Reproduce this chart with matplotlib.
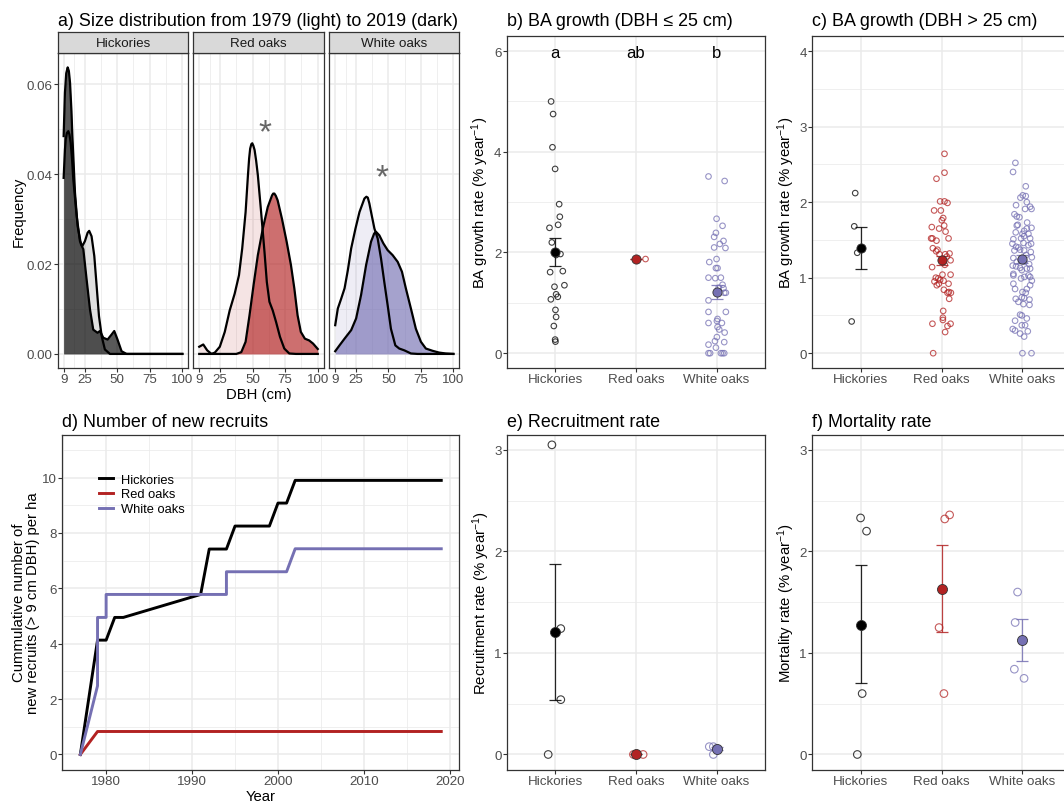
import matplotlib
matplotlib.use('agg')
import matplotlib.pyplot as plt
from matplotlib.ticker import MultipleLocator, FixedLocator

plt.rcParams['font.family'] = ['Liberation Sans', 'DejaVu Sans']
plt.rcParams['mathtext.fontset'] = 'custom'
plt.rcParams['mathtext.rm'] = 'Liberation Sans'
plt.rcParams['mathtext.it'] = 'Liberation Sans:italic'
plt.rcParams['mathtext.bf'] = 'Liberation Sans:bold'
plt.rcParams['mathtext.default'] = 'regular'

# ---------------- data ----------------
species = ["Hickories", "Red oaks", "White oaks"]
sp_colors = ["#000000", "#B22222", "#7570B3"]

# a) density of DBH, 1979 (light) and 2019 (dark)
hick79_x = [9, 10, 10.6, 11.5, 12.6, 13.5, 14.4, 15.4, 16.4, 19.0, 21.5, 23.3, 25.3, 27.4,
            28.6, 30.4, 32.5, 34.3, 36.1, 38.2, 40.6, 44.5, 100]
hick79_y = [0.0392, 0.0455, 0.0478, 0.0492, 0.0496, 0.0488, 0.047, 0.0435, 0.0389, 0.0307,
            0.0251, 0.024, 0.0251, 0.027, 0.0274, 0.0262, 0.0218, 0.0151, 0.0084, 0.0039,
            0.001, 0, 0]
hick19_x = [9, 10, 11, 12.1, 13, 13.9, 15, 15.7, 17.7, 19.7, 22.3, 24.1, 26.6, 29.2, 31.7,
            35.0, 36.8, 39.4, 42.7, 45.7, 47.8, 50.3, 53.4, 57.2, 100]
hick19_y = [0.0485, 0.0582, 0.0625, 0.0638, 0.063, 0.0604, 0.054, 0.0485, 0.0359, 0.0285,
            0.0244, 0.0233, 0.0166, 0.0099, 0.0054, 0.0047, 0.0051, 0.0036, 0.0032, 0.0043,
            0.0051, 0.0032, 0.0006, 0, 0]
red79_x = [9, 12.1, 15.1, 18.4, 21, 24.8, 28.6, 32.4, 36.2, 39.5, 42.0, 44.6, 46.4, 47.3,
           48.1, 49.0, 49.7, 50.5, 51.5, 52.7, 54.0, 56.5, 59.1, 60.9, 62.9, 65.4, 68.0,
           71.0, 74.3, 78.1, 83.2, 100]
red79_y = [0.0016, 0.0021, 0.0008, 0, 0.0003, 0.0016, 0.0049, 0.0097, 0.0134, 0.0175,
           0.0235, 0.0316, 0.0398, 0.0435, 0.0457, 0.0467, 0.0469, 0.0464, 0.0454, 0.043,
           0.0398, 0.0316, 0.0227, 0.016, 0.0116, 0.0097, 0.0071, 0.0038, 0.0012, 0.0001,
           0, 0]
red19_x = [9, 37.5, 41.3, 44.6, 47.6, 50.7, 54.0, 57.8, 61.6, 64.9, 65.8, 66.7, 67.8, 69.2,
           72.5, 76.1, 79.4, 82.0, 84.5, 87.0, 90.1, 93.4, 96.4, 100]
red19_y = [0, 0, 0.0004, 0.0027, 0.0086, 0.0153, 0.022, 0.0279, 0.0327, 0.0353, 0.0357,
           0.0357, 0.0352, 0.0342, 0.0301, 0.025, 0.0198, 0.0146, 0.0086, 0.0049, 0.0034,
           0.003, 0.0023, 0.0011]
white79_x = [9, 11.0, 13.6, 16.2, 18.7, 21.3, 24.6, 27.7, 31.5, 33.0, 34.1, 35.3, 36.6, 39.2,
             41.7, 44.3, 46.8, 49.4, 51.9, 55.3, 58.3, 62.2, 67.3, 72.4, 100]
white79_y = [0.0064, 0.0101, 0.0123, 0.0146, 0.0186, 0.0235, 0.0279, 0.0316, 0.0346, 0.035,
             0.0348, 0.0335, 0.0316, 0.0279, 0.0257, 0.0212, 0.016, 0.0108, 0.0056, 0.0019,
             0.0012, 0.0008, 0.0001, 0, 0]
white19_x = [9, 12.3, 16.2, 21.3, 25.1, 28.9, 32.8, 36.6, 39.0, 40.4, 43.0, 46.1, 49.4, 53.2,
             57.1, 60.4, 63.4, 67.3, 71.1, 75.0, 78.8, 83.9, 89.0, 94.1, 100]
white19_y = [0.0006, 0.0019, 0.0034, 0.0053, 0.0079, 0.0131, 0.0198, 0.025, 0.0268, 0.0272,
             0.0264, 0.0246, 0.0231, 0.022, 0.0205, 0.0183, 0.0146, 0.0101, 0.0056, 0.0027,
             0.0012, 0.0007, 0.0003, 0.0001, 0]
star_x = [None, 59.3, 45.0]
star_y = [None, 0.0515, 0.0414]

# b) BA growth, DBH <= 25 cm
b_hick = [5.0, 4.75, 4.09, 3.66, 2.96, 2.71, 2.55, 2.49, 2.20, 1.97, 1.95, 1.61, 1.63, 1.32,
          1.35, 1.17, 1.12, 1.07, 0.86, 0.72, 0.54, 0.27, 0.23]
b_hick_jit = [-0.05, -0.025, -0.033, 0, 0.05, 0.058, 0.037, -0.07, -0.041, 0.066, 0.012,
              -0.062, 0.095, -0.008, 0.115, 0.012, 0.033, -0.053, 0.004, 0.012, -0.016, 0,
              0.004]
b_red = [1.87]
b_red_jit = [0.12]
b_white = [3.51, 3.42, 2.67, 2.53, 2.39, 2.31, 2.23, 2.17, 2.09, 2.10, 1.81, 1.87, 1.69,
           1.69, 1.50, 1.49, 1.50, 1.36, 1.29, 1.30, 1.20, 1.20, 1.05, 0.82, 0.82, 0.68,
           0.64, 0.60, 0.60, 0.52, 0.47, 0.41, 0.32, 0.24, 0.22, 0.17, 0.11, 0, 0, 0, 0, 0]
b_white_jit = [-0.10, 0.10, 0.0, 0.074, -0.008, -0.03, 0.086, 0.04, 0.11, -0.03, -0.09, 0.0,
               -0.008, 0.012, -0.1, -0.016, 0.053, 0.074, 0.086, 0.025, 0.095, 0.115, -0.10,
               -0.10, 0.115, 0.012, 0.004, -0.10, 0.066, 0.012, 0.033, 0.10, 0.004, -0.02,
               0.095, -0.10, -0.008, -0.10, -0.08, 0.053, 0.074, 0.095]
b_mean = [2.01, 1.87, 1.21]
b_lo = [1.73, 1.87, 1.07]
b_hi = [2.29, 1.87, 1.35]
b_letters = ["a", "ab", "b"]

# c) BA growth, DBH > 25 cm
c_hick = [2.12, 1.68, 1.33, 0.42]
c_hick_jit = [-0.066, -0.078, -0.041, -0.11]
c_red = [2.64, 2.39, 2.31, 2.01, 2.01, 1.99, 1.89, 1.89, 1.79, 1.76,
         1.69, 1.67, 1.65, 1.61, 1.52, 1.52, 1.52, 1.49, 1.39, 1.37,
         1.35, 1.31, 1.31, 1.32, 1.28, 1.23, 1.21, 1.17, 1.14, 1.04,
         1.04, 1.00, 0.99, 0.97, 0.96, 0.95, 0.92, 0.92, 0.90, 0.84,
         0.81, 0.80, 0.80, 0.72, 0.56, 0.47, 0.44, 0.39, 0.39, 0.36,
         0.28, 0.0]
c_red_jit = [0.037, 0.037, -0.062, -0.017, 0.037, 0.074, -0.091, -0.008, 0.021, 0.004,
             0.033, -0.12, -0.029, 0.05, -0.112, -0.128, 0.087, -0.062, -0.107, -0.05,
             -0.066, -0.025, 0.045, 0.099, 0.066, 0.112, 0.025, 0.041, -0.116, 0.012,
             0.112, -0.07, -0.041, -0.017, 0.025, -0.087, -0.033, 0.087, -0.058, 0.029,
             0.091, 0.116, 0.074, 0.095, 0.021, 0.017, 0.017, 0.112, -0.112, 0.074,
             0.045, -0.103]
c_white = [2.52, 2.40, 2.21, 2.09, 2.06, 2.08, 2.00, 1.96, 1.91, 1.94,
           1.91, 1.84, 1.81, 1.80, 1.70, 1.69, 1.73, 1.66, 1.65, 1.62,
           1.58, 1.58, 1.60, 1.51, 1.55, 1.52, 1.52, 1.45, 1.46, 1.41,
           1.40, 1.43, 1.45, 1.37, 1.36, 1.34, 1.36, 1.30, 1.26, 1.27,
           1.23, 1.21, 1.18, 1.21, 1.16, 1.15, 1.13, 1.12, 1.12, 1.10,
           1.05, 1.03, 1.03, 1.01, 1.01, 0.99, 0.96, 0.90, 0.92, 0.85,
           0.85, 0.81, 0.80, 0.74, 0.73, 0.72, 0.68, 0.71, 0.65, 0.64,
           0.51, 0.50, 0.46, 0.43, 0.37, 0.37, 0.32, 0.30, 0.29, 0.26,
           0.22, 0.0, 0.0]
c_white_jit = [-0.087, -0.116, 0.041, 0.004, -0.025, 0.041, 0.054, -0.079, 0.033, 0.095,
               0.112, -0.099, -0.07, -0.037, -0.058, -0.07, 0.058, 0.112, 0.054, 0.021,
               0, 0.074, -0.083, -0.112, 0.021, -0.017, 0.095, -0.124, 0.012, -0.079,
               -0.05, 0.074, 0.107, -0.029, 0.021, 0.103, -0.099, 0.045, -0.112, 0.116,
               -0.021, -0.07, 0.083, 0.025, -0.12, -0.079, -0.029, 0.054, 0.095, -0.008,
               -0.112, -0.112, 0.074, 0.025, 0.095, -0.017, 0.116, 0.095, -0.112, -0.091,
               0.054, 0, 0.041, -0.008, 0.021, -0.083, -0.05, 0.087, 0.012, 0.087,
               -0.029, -0.008, 0.054, -0.091, 0.033, -0.008, -0.12, -0.091, 0.066, -0.029,
               0.021, 0, 0.112]
c_mean = [1.39, 1.23, 1.25]
c_lo = [1.11, 1.17, 1.20]
c_hi = [1.67, 1.29, 1.30]

# d) cumulative number of new recruits per ha
d_hick_year = [1977, 1979, 1980, 1981, 1982, 1991, 1992, 1994, 1995, 1999, 2000, 2001, 2002, 2019]
d_hick = [0, 4.13, 4.13, 4.95, 4.95, 5.78, 7.42, 7.42, 8.25, 8.25, 9.08, 9.08, 9.90, 9.90]
d_red_year = [1977, 1979, 2019]
d_red = [0, 0.83, 0.83]
d_white_year = [1977, 1979, 1979, 1980, 1980, 1994, 1994, 2001, 2002, 2019]
d_white = [0, 2.48, 4.95, 4.95, 5.78, 5.78, 6.60, 6.60, 7.43, 7.43]

# e) recruitment rate
e_hick = [3.05, 1.24, 0.54, 0.0]
e_hick_jit = [-0.04, 0.07, 0.07, -0.086]
e_red = [0.0, 0.0]
e_red_jit = [0.09, -0.03]
e_white = [0.077, 0.077, 0.0, 0.06]
e_white_jit = [-0.09, -0.04, -0.04, 0.0]
e_mean = [1.21, 0.0, 0.055]
e_lo = [0.54, 0.0, 0.04]
e_hi = [1.88, 0.0, 0.07]

# f) mortality rate
f_hick = [2.33, 2.20, 0.60, 0.0]
f_hick_jit = [0.0, 0.074, 0.02, -0.04]
f_red = [2.32, 2.36, 1.25, 0.60]
f_red_jit = [0.04, 0.10, -0.03, 0.03]
f_white = [1.60, 1.30, 0.84, 0.75]
f_white_jit = [-0.06, -0.09, -0.10, 0.02]
f_mean = [1.28, 1.63, 1.13]
f_lo = [0.70, 1.21, 0.92]
f_hi = [1.87, 2.06, 1.33]

# ---------------- layout helpers ----------------
W, H = 1064, 803
fig = plt.figure(figsize=(W / 100, H / 100), dpi=100)

TICK = 9.6
LEG = 9.3
LAB = 10.7
TITLE = 12.9


def px_axes(x0, y0, x1, y1):
    return fig.add_axes([x0 / W, 1 - y1 / H, (x1 - x0) / W, (y1 - y0) / H])


def ftext(x, y, s, **kw):
    fig.text(x / W, 1 - y / H, s, **kw)


def theme_bw(ax):
    ax.set_facecolor('white')
    for sp in ax.spines.values():
        sp.set_color('#333333')
        sp.set_linewidth(0.9)
    ax.grid(which='major', color='#EBEBEB', lw=1.1)
    ax.grid(which='minor', color='#EBEBEB', lw=0.55)
    ax.set_axisbelow(True)
    ax.tick_params(which='major', length=2.7, width=0.8, color='#333333',
                   labelsize=TICK, labelcolor='#4D4D4D', pad=1)
    ax.tick_params(which='minor', length=0)


# ---------------- a) densities ----------------
facet_px = [(57.7, 188.3), (193.3, 323.7), (329.3, 459.3)]
curves79 = [(hick79_x, hick79_y), (red79_x, red79_y), (white79_x, white79_y)]
curves19 = [(hick19_x, hick19_y), (red19_x, red19_y), (white19_x, white19_y)]

for i, (x0, x1) in enumerate(facet_px):
    ax = px_axes(x0, 54, x1, 369.3)
    theme_bw(ax)
    col = sp_colors[i]
    lx, ly = curves79[i]
    dx, dy = curves19[i]
    ax.fill_between(lx, 0, ly, color=col, alpha=0.12, lw=0)
    ax.plot(lx, ly, color='black', lw=1.6)
    ax.fill_between(dx, 0, dy, color=col, alpha=0.65, lw=0)
    ax.plot(dx, dy, color='black', lw=1.6)
    ax.set_xlim(4.45, 104.55)
    ax.set_ylim(-0.0032, 0.067)
    ax.set_xticks([9, 25, 50, 75, 100])
    ax.xaxis.set_minor_locator(FixedLocator([17, 37.5, 62.5, 87.5]))
    ax.set_yticks([0, 0.02, 0.04, 0.06])
    ax.yaxis.set_minor_locator(FixedLocator([0.01, 0.03, 0.05]))
    if i == 0:
        ax.set_yticklabels(["0.00", "0.02", "0.04", "0.06"])
    else:
        ax.tick_params(axis='y', left=False, labelleft=False)
        ax.annotate("*", (star_x[i], star_y[i]), xytext=(0, -13.5),
                    textcoords='offset points', ha='center', va='baseline',
                    fontsize=24, color='#666666')
    # facet strip
    st = px_axes(x0, 33.3, x1, 54)
    st.set_facecolor('#D9D9D9')
    for sp in st.spines.values():
        sp.set_color('#333333')
        sp.set_linewidth(0.9)
    st.set_xticks([])
    st.set_yticks([])
    st.text(0.5, 0.47, species[i], ha='center', va='center', fontsize=TICK,
            color='#1A1A1A', transform=st.transAxes)

ftext(57.7, 26, "a) Size distribution from 1979 (light) to 2019 (dark)",
      fontsize=TITLE, ha='left', va='baseline')
ftext(18.3, 211.7, "Frequency", rotation=90, ha='center', va='center', fontsize=LAB)
ftext(258.5, 399.5, "DBH (cm)", ha='center', va='baseline', fontsize=LAB)


# ---------------- dot panels ----------------
def dot_panel(ax, groups, jits, means, los, his, s_open, s_mean, ylim, ymax_tick):
    for i in range(3):
        col = sp_colors[i]
        xs = [i + 1 + j for j in jits[i]]
        ax.scatter(xs, groups[i], s=s_open, facecolors='none', edgecolors=col,
                   linewidths=0.8, alpha=0.75, zorder=3)
        ax.errorbar([i + 1], [means[i]],
                    yerr=[[means[i] - los[i]], [his[i] - means[i]]],
                    fmt='none', ecolor=col, elinewidth=0.9, capsize=4.5,
                    capthick=0.9, alpha=0.85, zorder=4)
        ax.scatter([i + 1], [means[i]], s=s_mean, color=col, edgecolors='#333333',
                   linewidths=0.6, zorder=5)
    ax.set_xlim(0.4, 3.6)
    ax.set_ylim(*ylim)
    ax.set_xticks([1, 2, 3])
    ax.set_xticklabels(species)
    ax.yaxis.set_major_locator(MultipleLocator(ymax_tick))
    ax.yaxis.set_minor_locator(MultipleLocator(ymax_tick / 2))


ylab_growth = "BA growth rate (% year$^{-1}$)"

# b
axb = px_axes(506.7, 37, 765, 369.3)
theme_bw(axb)
dot_panel(axb, [b_hick, b_red, b_white], [b_hick_jit, b_red_jit, b_white_jit],
          b_mean, b_lo, b_hi, 16, 44, (-0.3, 6.3), 2)
for i, t in enumerate(b_letters):
    axb.annotate(t, (i + 1, 6), xytext=(0, -4.3), textcoords='offset points',
                 ha='center', va='baseline', fontsize=12, color='black')
ftext(506.7, 26, "b) BA growth (DBH \u2264 25 cm)", fontsize=TITLE, ha='left', va='baseline')
ftext(480.5, 203, ylab_growth, rotation=90, ha='center', va='center', fontsize=LAB)

# c
axc = px_axes(812, 37, 1071, 369.3)
theme_bw(axc)
dot_panel(axc, [c_hick, c_red, c_white], [c_hick_jit, c_red_jit, c_white_jit],
          c_mean, c_lo, c_hi, 16, 44, (-0.2, 4.2), 1)
ftext(812, 26, "c) BA growth (DBH > 25 cm)", fontsize=TITLE, ha='left', va='baseline')
ftext(786.5, 203, ylab_growth, rotation=90, ha='center', va='center', fontsize=LAB)

# ---------------- d) recruits ----------------
axd = px_axes(62.3, 435.7, 459.3, 770.7)
theme_bw(axd)
axd.plot(d_hick_year, d_hick, color=sp_colors[0], lw=2.1, label=species[0])
axd.plot(d_red_year, d_red, color=sp_colors[1], lw=2.1, label=species[1])
axd.plot(d_white_year, d_white, color=sp_colors[2], lw=2.1, label=species[2])
axd.set_xlim(1974.9, 2021.1)
axd.set_ylim(-0.55, 11.55)
axd.xaxis.set_major_locator(MultipleLocator(10))
axd.xaxis.set_minor_locator(MultipleLocator(5))
axd.yaxis.set_major_locator(MultipleLocator(2))
axd.yaxis.set_minor_locator(MultipleLocator(1))
axd.legend(loc='upper left', bbox_to_anchor=(99.3 / W, 1 - 474.5 / H),
           bbox_transform=fig.transFigure, frameon=False, fontsize=LEG,
           handlelength=1.05, handletextpad=0.62, labelspacing=0.22,
           borderpad=0, borderaxespad=0)
ftext(62.3, 426.7, "d) Number of new recruits", fontsize=TITLE, ha='left', va='baseline')
ftext(26, 603, "Cummulative number of\nnew recruits (> 9 cm DBH) per ha", rotation=90,
      ha='center', va='center', fontsize=LAB, linespacing=1.05, multialignment='center')
ftext(260.8, 801.5, "Year", ha='center', va='baseline', fontsize=LAB)

# ---------------- e) recruitment ----------------
axe = px_axes(506.7, 435.7, 765, 770.7)
theme_bw(axe)
dot_panel(axe, [e_hick, e_red, e_white], [e_hick_jit, e_red_jit, e_white_jit],
          e_mean, e_lo, e_hi, 30, 52, (-0.15, 3.15), 1)
ftext(506.7, 426.7, "e) Recruitment rate", fontsize=TITLE, ha='left', va='baseline')
ftext(481, 603, "Recruitment rate (% year$^{-1}$)", rotation=90, ha='center',
      va='center', fontsize=LAB)

# ---------------- f) mortality ----------------
axf = px_axes(812, 435.7, 1071, 770.7)
theme_bw(axf)
dot_panel(axf, [f_hick, f_red, f_white], [f_hick_jit, f_red_jit, f_white_jit],
          f_mean, f_lo, f_hi, 30, 52, (-0.15, 3.15), 1)
ftext(812, 426.7, "f) Mortality rate", fontsize=TITLE, ha='left', va='baseline')
ftext(786, 603, "Mortality rate (% year$^{-1}$)", rotation=90, ha='center',
      va='center', fontsize=LAB)

fig.savefig("out.png", dpi=100)
